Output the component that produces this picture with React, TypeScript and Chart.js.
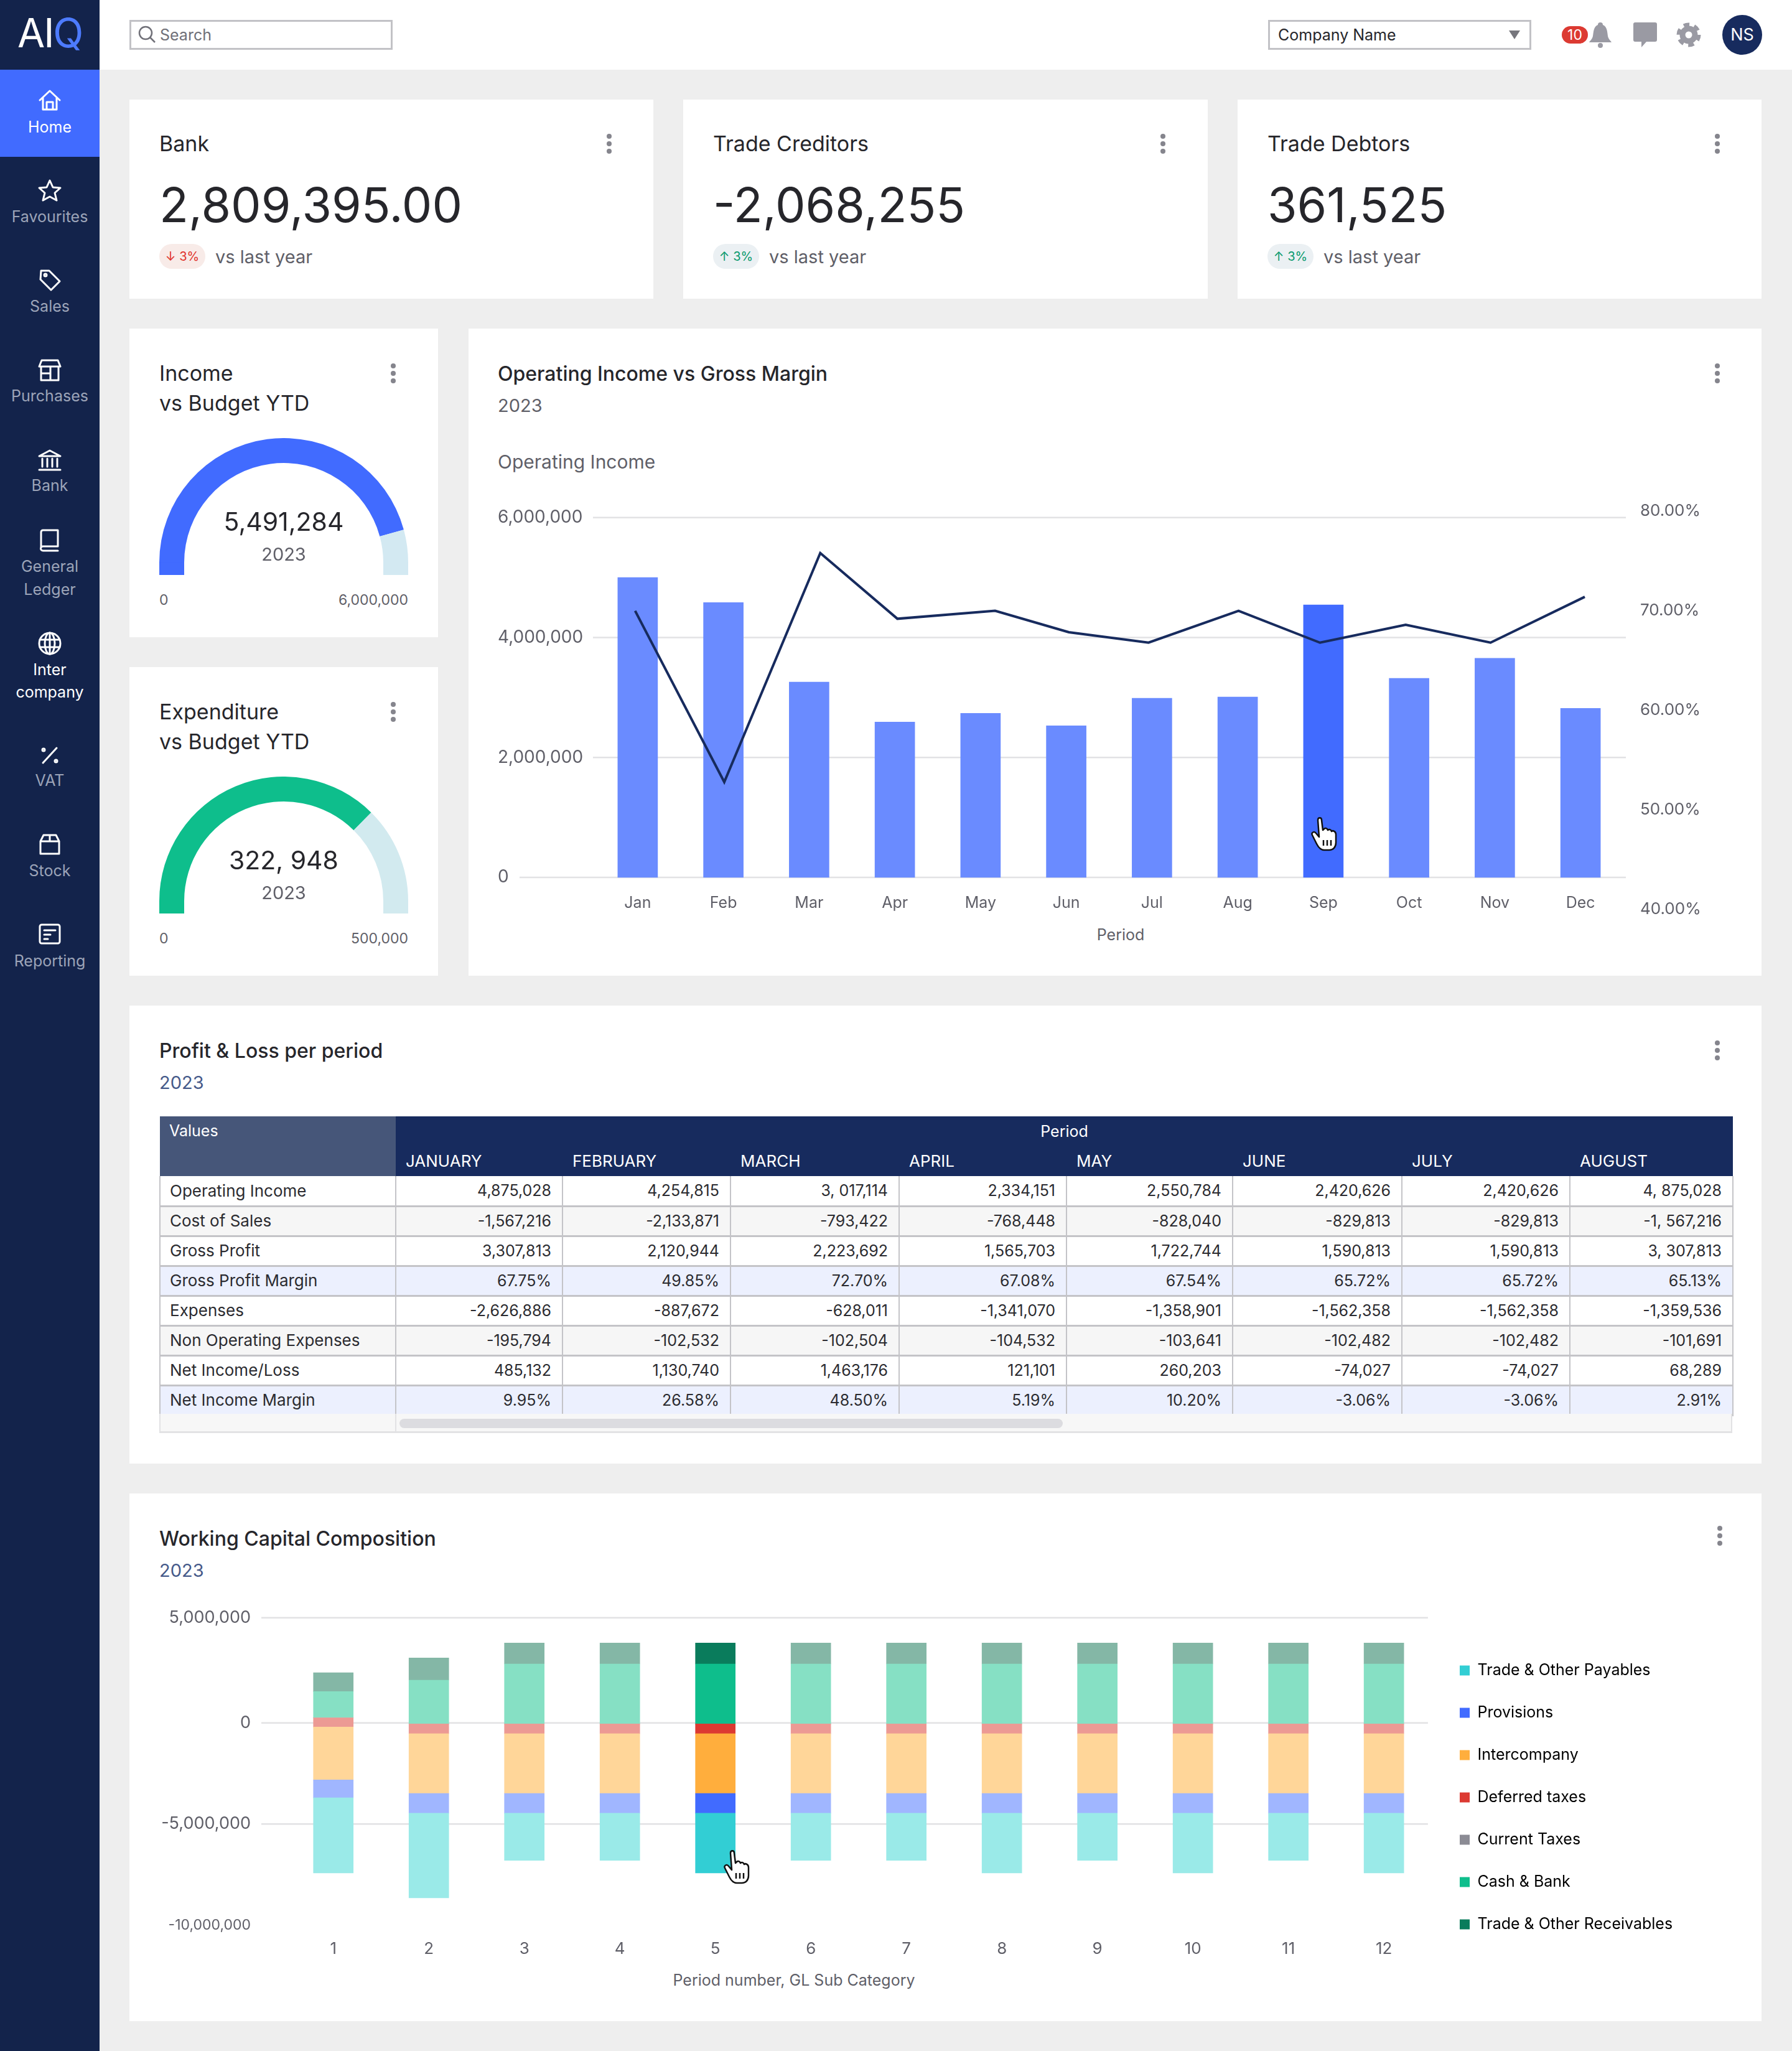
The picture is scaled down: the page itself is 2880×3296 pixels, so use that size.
import { useEffect, useRef } from "react";
import { Chart, registerables } from "chart.js";

Chart.register(...registerables);

const FONT = "Inter, sans-serif";
const NAVY = "#172b5e";
const BLUE = "#416bff";
const GREY_TEXT = "#5f5f68";

// Operating income vs gross margin
const months = ["Jan", "Feb", "Mar", "Apr", "May", "Jun", "Jul", "Aug", "Sep", "Oct", "Nov", "Dec"];
const operatingIncome = [5000000, 4583000, 3257000, 2590000, 2736000, 2528000, 2986000, 3007000, 4542000, 3319000, 3653000, 2819000];
const grossMargin = [70.0, 52.8, 75.8, 69.2, 70.0, 67.85, 66.8, 70.0, 66.8, 68.6, 66.8, 71.4];
// the line's vertices don't sit quite on the bar centres in the source
const marginPeriods = [-0.03, 1.01, 2.13, 3.03, 4.17, 5.03, 5.96, 7.01, 7.96, 8.96, 9.95, 11.05];
const incomeTicks = [0, 2000000, 4000000, 6000000];
const marginTicks = [40, 50, 60, 70, 80];
const highlightedMonth = 8;

// Gauges
const incomeGauge = [5491284, 508716];
const expenditureGauge = [374000, 126000];

// Working capital
const periods = ["1", "2", "3", "4", "5", "6", "7", "8", "9", "10", "11", "12"];
const columnTops = [2483000, 3217000, 3950000, 3950000, 3950000, 3950000, 3950000, 3950000, 3950000, 3950000, 3950000, 3950000];
const payables = [3717000, 4183000, 2333000, 2333000, 2950000, 2333000, 2333000, 2950000, 2333000, 2950000, 2333000, 2950000];
const provisions = [883000, 983000, 983000, 983000, 983000, 983000, 983000, 983000, 983000, 983000, 983000, 983000];
const intercompany = [2617000, 2950000, 2950000, 2950000, 2950000, 2950000, 2950000, 2950000, 2950000, 2950000, 2950000, 2950000];
const deferredTaxes = [450000, 483000, 483000, 483000, 483000, 483000, 483000, 483000, 483000, 483000, 483000, 483000];
const currentTaxes = [0, 0, 0, 0, 0, 0, 0, 0, 0, 0, 0, 0];
const cashBank = [1300000, 2167000, 2967000, 2967000, 2967000, 2967000, 2967000, 2967000, 2967000, 2967000, 2967000, 2967000];
const receivables = [933000, 1100000, 1033000, 1033000, 1033000, 1033000, 1033000, 1033000, 1033000, 1033000, 1033000, 1033000];
// top gridline sits slightly above 5M in the source
const capitalTicks = [5200000, 0, -5000000, -10000000];
const capitalTickLabels = ["5,000,000", "0", "-5,000,000", "-10,000,000"];
const highlightedPeriod = 4;

const capitalSeries = [
  { label: "Trade & Other Payables", values: payables, color: "#32ced4", faded: "#9aeae8" },
  { label: "Provisions", values: provisions, color: "#416bff", faded: "#a0b6ff" },
  { label: "Intercompany", values: intercompany, color: "#ffae3d", faded: "#ffd699" },
  { label: "Deferred taxes", values: deferredTaxes, color: "#dc3a32", faded: "#ec9a94" },
  { label: "Current Taxes", values: currentTaxes, color: "#8b8b94", faded: "#c5c5ca" },
  { label: "Cash & Bank", values: cashBank, color: "#0ebe8c", faded: "#86e0c4" },
  { label: "Trade & Other Receivables", values: receivables, color: "#0a7c5c", faded: "#84b7a6" },
];

// P&L table
const tableMonths = ["JANUARY", "FEBRUARY", "MARCH", "APRIL", "MAY", "JUNE", "JULY", "AUGUST"];
const columnWidths = [379, 268, 270, 271, 269, 267, 272, 270, 262];
const tableRows = [
  { label: "Operating Income", cells: ["4,875,028", "4,254,815", "3, 017,114", "2,334,151", "2,550,784", "2,420,626", "2,420,626", "4, 875,028"], bg: "#fff" },
  { label: "Cost of Sales", cells: ["-1,567,216", "-2,133,871", "-793,422", "-768,448", "-828,040", "-829,813", "-829,813", "-1, 567,216"], bg: "#f6f6f6" },
  { label: "Gross Profit", cells: ["3,307,813", "2,120,944", "2,223,692", "1,565,703", "1,722,744", "1,590,813", "1,590,813", "3, 307,813"], bg: "#fff" },
  { label: "Gross Profit Margin", cells: ["67.75%", "49.85%", "72.70%", "67.08%", "67.54%", "65.72%", "65.72%", "65.13%"], bg: "#ecf0fe" },
  { label: "Expenses", cells: ["-2,626,886", "-887,672", "-628,011", "-1,341,070", "-1,358,901", "-1,562,358", "-1,562,358", "-1,359,536"], bg: "#fff" },
  { label: "Non Operating Expenses", cells: ["-195,794", "-102,532", "-102,504", "-104,532", "-103,641", "-102,482", "-102,482", "-101,691"], bg: "#f6f6f6" },
  { label: "Net Income/Loss", cells: ["485,132", "1,130,740", "1,463,176", "121,101", "260,203", "-74,027", "-74,027", "68,289"], bg: "#fff" },
  { label: "Net Income Margin", cells: ["9.95%", "26.58%", "48.50%", "5.19%", "10.20%", "-3.06%", "-3.06%", "2.91%"], bg: "#ecf0fe" },
];

// Draws horizontal grid lines so each tick can start at its own x
function gridPlugin(leftFor: (value: number) => number, right: number, skip: number[] = []) {
  return {
    id: "gridRun",
    beforeDatasetsDraw(chart: any) {
      const { ctx, chartArea, scales } = chart;
      ctx.save();
      ctx.strokeStyle = "#e2e2e4";
      ctx.lineWidth = 2.5;
      scales.y.ticks.forEach((tick: any) => {
        if (skip.includes(tick.value)) return;
        const y = scales.y.getPixelForValue(tick.value);
        ctx.beginPath();
        ctx.moveTo(chartArea.left + leftFor(tick.value), y);
        ctx.lineTo(chartArea.right + right, y);
        ctx.stroke();
      });
      ctx.restore();
    },
  };
}

// Straight stubs at both feet of the gauge
const gaugeFeet = {
  id: "gaugeFeet",
  afterDatasetsDraw(chart: any) {
    const arcs = chart.getDatasetMeta(0).data;
    const colors = chart.data.datasets[0].backgroundColor;
    const { x, y, innerRadius, outerRadius } = arcs[0].getProps(["x", "y", "innerRadius", "outerRadius"]);
    const ctx = chart.ctx;
    ctx.save();
    ctx.fillStyle = colors[0];
    ctx.fillRect(x - outerRadius, y - 0.5, outerRadius - innerRadius, 20.5);
    ctx.fillStyle = colors[1];
    ctx.fillRect(x + innerRadius, y - 0.5, outerRadius - innerRadius, 20.5);
    ctx.restore();
  },
};

function ChartCanvas({ config, left, top, width, height }: any) {
  const canvasRef = useRef<HTMLCanvasElement>(null);
  useEffect(() => {
    if (!canvasRef.current) return;
    const chart = new Chart(canvasRef.current, config());
    return () => chart.destroy();
  }, []);
  return <canvas ref={canvasRef} width={width} height={height} style={{ position: "absolute", left, top, width, height }} />;
}

function operatingConfig(): any {
  return {
    type: "bar",
    data: {
      labels: months,
      datasets: [
        {
          type: "line",
          data: grossMargin.map((y, i) => ({ x: marginPeriods[i], y })),
          xAxisID: "x2",
          yAxisID: "y1",
          borderColor: NAVY,
          borderWidth: 4,
          pointRadius: 0,
          tension: 0,
          order: 1,
        },
        {
          data: operatingIncome,
          xAxisID: "x",
          yAxisID: "y",
          grouped: false,
          barThickness: 64,
          backgroundColor: months.map((_, i) => (i === highlightedMonth ? BLUE : "#6a8bff")),
          order: 2,
        },
      ],
    },
    options: {
      responsive: false,
      animation: false,
      events: [],
      layout: { autoPadding: false, padding: { top: 10.65 } },
      plugins: { legend: { display: false }, tooltip: { enabled: false } },
      scales: {
        x: {
          grid: { display: false },
          border: { display: false },
          ticks: { color: GREY_TEXT, font: { family: FONT, size: 25 }, padding: -9, maxRotation: 0 },
          afterFit: (s: any) => { s.height = 44; },
        },
        x2: { type: "linear", display: false, offset: false, min: -0.5, max: 11.5 },
        y: {
          position: "left",
          // limits leave room for the right axis, which runs past the zero line
          min: -280000,
          max: 6104000,
          grid: { display: false },
          border: { display: false },
          afterBuildTicks: (s: any) => { s.ticks = incomeTicks.map((value) => ({ value })); },
          afterFit: (s: any) => { s.width = 156; },
          ticks: {
            crossAlign: "far",
            color: GREY_TEXT,
            font: { family: FONT, size: 28 },
            callback: (v: number) => v.toLocaleString("en-US"),
          },
        },
        y1: {
          position: "right",
          // the 40% tick lands below the plot area, beside the month labels
          min: 41.53,
          max: 80,
          grid: { display: false },
          border: { display: false },
          afterBuildTicks: (s: any) => { s.ticks = marginTicks.map((value) => ({ value })); },
          afterFit: (s: any) => { s.width = 151; },
          ticks: {
            padding: 19,
            color: GREY_TEXT,
            font: { family: FONT, size: 26 },
            callback: (v: number) => v.toFixed(2) + "%",
          },
        },
      },
    },
    plugins: [gridPlugin((v) => (v === 0 ? -121 : -3), 4)],
  };
}

function capitalConfig(): any {
  // each column hangs from its top value, so the segments are floated rather than stacked on zero
  const remaining = [...columnTops];
  const ranges = [...capitalSeries].reverse().map((s) =>
    s.values.map((value, i) => {
      const top = remaining[i];
      remaining[i] = top - value;
      return [top - value, top];
    })
  ).reverse();

  return {
    type: "bar",
    data: {
      labels: periods,
      datasets: capitalSeries.map((s, index) => ({
        label: s.label,
        data: ranges[index],
        grouped: false,
        barThickness: 64,
        backgroundColor: periods.map((_, i) => (i === highlightedPeriod ? s.color : s.faded)),
      })),
    },
    options: {
      responsive: false,
      animation: false,
      events: [],
      layout: { autoPadding: false, padding: { top: 19.5 } },
      plugins: {
        tooltip: { enabled: false },
        legend: {
          position: "right",
          align: "start",
          labels: {
            boxWidth: 16,
            boxHeight: 16,
            padding: 43,
            color: GREY_TEXT,
            font: { family: FONT, size: 25, lineHeight: 1 },
            generateLabels: () =>
              capitalSeries.map((s, i) => ({ text: s.label, fillStyle: s.color, strokeStyle: s.color, lineWidth: 0, hidden: false, datasetIndex: i })),
          },
        },
      },
      scales: {
        x: {
          grid: { display: false },
          border: { display: false },
          ticks: { color: GREY_TEXT, font: { family: FONT, size: 26 }, padding: 15, maxRotation: 0 },
          afterFit: (s: any) => { s.height = 60; },
        },
        y: {
          min: -10000000,
          max: 5200000,
          grid: { display: false },
          border: { display: false },
          afterBuildTicks: (s: any) => { s.ticks = capitalTicks.map((value) => ({ value })); },
          afterFit: (s: any) => { s.width = 203; },
          ticks: {
            padding: 48,
            color: GREY_TEXT,
            font: (ctx: any) => ({ family: FONT, size: ctx.index === 3 ? 23 : 27 }),
            callback: (_: number, i: number) => capitalTickLabels[i],
          },
        },
      },
    },
    plugins: [
      gridPlugin(() => -39, -6, [-10000000]),
      {
        id: "legendPlace",
        afterLayout(chart: any) {
          chart.legend.left = 2047;
          chart.legend.top = 91;
        },
      },
    ],
  };
}

function gaugeConfig(values: number[], color: string, rest: string) {
  return (): any => ({
    type: "doughnut",
    data: { datasets: [{ data: values, backgroundColor: [color, rest], borderWidth: 0 }] },
    options: {
      responsive: false,
      animation: false,
      events: [],
      rotation: -90,
      circumference: 180,
      cutout: "80%",
      layout: { padding: { bottom: 20 } },
      plugins: { legend: { display: false }, tooltip: { enabled: false } },
    },
    plugins: [gaugeFeet],
  });
}

function T({ x, y, size, color = "#26262b", weight = 400, align = "left", children }: any) {
  const shift = align === "center" ? "-50%" : align === "right" ? "-100%" : "0";
  return (
    <div style={{ position: "absolute", left: x, top: y, transform: `translate(${shift}, -50%)`, fontSize: size, color, fontWeight: weight, whiteSpace: "nowrap", lineHeight: 1.2 }}>
      {children}
    </div>
  );
}

function Box({ x, y, w, h, bg = "#fff", style }: any) {
  return <div style={{ position: "absolute", left: x, top: y, width: w, height: h, background: bg, ...style }} />;
}

function Kebab({ x, y }: any) {
  return (
    <>
      {[-12, 0, 12].map((d) => (
        <div key={d} style={{ position: "absolute", left: x - 4, top: y + d - 4, width: 8, height: 8, borderRadius: 4, background: "#85858d" }} />
      ))}
    </>
  );
}

const icons: Record<string, any> = {
  home: <path d="M4 20 L20 5 L36 20 M9 16 V35 H31 V16 M15 35 V23 H25 V35" />,
  star: <polygon points="20,4 25,15 37,16 28,24 31,36 20,30 9,36 12,24 3,16 15,15" />,
  tag: <><path d="M6 5 H19 L36 22 L22 36 L5 19 Z" /><circle cx="13" cy="12" r="2" /></>,
  store: <path d="M7 4 H33 L37 14 H3 Z M6 14 V36 H34 V14 M6 25 H21 M21 14 V36" />,
  bank: <path d="M3 13 L20 4 L37 13 Z M8 17 V30 M16 17 V30 M24 17 V30 M32 17 V30 M3 35 H37" />,
  book: <path d="M6 32 V7 a3 3 0 0 1 3-3 H33 V30 H9 a3 3 0 0 0 0 7 H33" />,
  globe: <><circle cx="20" cy="20" r="17" /><ellipse cx="20" cy="20" rx="8" ry="17" /><path d="M4 14 H36 M4 26 H36 M20 3 V37" /></>,
  percent: <><path d="M9 32 L31 8" /><circle cx="10" cy="11" r="2" /><circle cx="30" cy="29" r="2" /></>,
  box: <path d="M5 15 L10 5 H30 L35 15 V35 H5 Z M5 15 H35 M20 5 V15" />,
  report: <><rect x="4" y="5" width="32" height="30" rx="3" /><path d="M11 14 H29 M11 21 H21 M11 28 H17" /></>,
};

const navItems = [
  { icon: "home", labels: [["Home", 203.5]], iconY: 161, active: true },
  { icon: "star", labels: [["Favourites", 348]], iconY: 306 },
  { icon: "tag", labels: [["Sales", 492]], iconY: 450 },
  { icon: "store", labels: [["Purchases", 636]], iconY: 595 },
  { icon: "bank", labels: [["Bank", 780]], iconY: 740 },
  { icon: "book", labels: [["General", 910], ["Ledger", 947]], iconY: 868 },
  { icon: "globe", labels: [["Inter", 1076], ["company", 1112]], iconY: 1034, active: true },
  { icon: "percent", labels: [["VAT", 1254]], iconY: 1214 },
  { icon: "box", labels: [["Stock", 1399]], iconY: 1357 },
  { icon: "report", labels: [["Reporting", 1544]], iconY: 1501 },
];

function Sidebar() {
  return (
    <>
      <Box x={0} y={0} w={160} h={3296} bg="#13234b" />
      <Box x={0} y={112} w={160} h={140} bg={BLUE} />
      <div style={{ position: "absolute", left: 28, top: 15, fontSize: 64, color: "#fff", fontWeight: 400, lineHeight: 1.2, letterSpacing: -2 }}>
        AI<span style={{ color: "#4d7bff" }}>Q</span>
      </div>
      {navItems.map((item) => (
        <div key={item.icon}>
          <svg width={40} height={40} viewBox="0 0 40 40" fill="none" stroke="#fff" strokeWidth={3} strokeLinejoin="round" strokeLinecap="round"
            style={{ position: "absolute", left: 60, top: item.iconY - 20 }}>
            {icons[item.icon]}
          </svg>
          {item.labels.map(([text, y]: any) => (
            <T key={text} x={80} y={y} size={25} align="center" color={item.active ? "#fff" : "#9ca4b8"}>{text}</T>
          ))}
        </div>
      ))}
    </>
  );
}

function TopBar() {
  return (
    <>
      <Box x={160} y={0} w={2720} h={112} />
      <Box x={208} y={32} w={423} h={48} style={{ border: "3px solid #c2c2c6", boxSizing: "border-box" }} />
      <svg width={30} height={30} viewBox="0 0 30 30" fill="none" stroke="#707078" strokeWidth={2.5} style={{ position: "absolute", left: 222, top: 41 }}>
        <circle cx="12" cy="12" r="10" /><path d="M19 19 L27 27" />
      </svg>
      <T x={257} y={56} size={25} color="#707078">Search</T>

      <Box x={2038} y={32} w={423} h={48} style={{ border: "3px solid #c2c2c6", boxSizing: "border-box" }} />
      <T x={2054} y={56} size={25}>Company Name</T>
      <svg width={18} height={14} style={{ position: "absolute", left: 2425, top: 49 }}><polygon points="0,0 18,0 9,14" fill="#77777d" /></svg>

      <svg width={40} height={42} viewBox="0 0 40 42" style={{ position: "absolute", left: 2552, top: 35 }} fill="#9a9aa3">
        <path d="M20 1 a4 4 0 0 1 4 4 C31 8 31 16 32 23 C33 28 37 31 38 33 H2 C3 31 7 28 8 23 C9 16 9 8 16 5 a4 4 0 0 1 4-4 Z" />
        <circle cx="20" cy="38" r="4" />
      </svg>
      <div style={{ position: "absolute", left: 2510, top: 42, width: 42, height: 28, borderRadius: 14, background: "#dc3a32", color: "#fff", fontSize: 23, lineHeight: "28px", textAlign: "center" }}>10</div>
      <svg width={40} height={42} viewBox="0 0 40 42" style={{ position: "absolute", left: 2624, top: 35 }} fill="#9a9aa3">
        <path d="M4 1 H36 a3 3 0 0 1 3 3 V29 a3 3 0 0 1-3 3 H22 L14 41 V32 H4 a3 3 0 0 1-3-3 V4 a3 3 0 0 1 3-3 Z" />
      </svg>
      <svg width={40} height={42} viewBox="0 0 40 42" style={{ position: "absolute", left: 2694, top: 35 }} fill="none" stroke="#9a9aa3">
        <circle cx="20" cy="21" r="10" strokeWidth={9} />
        <circle cx="20" cy="21" r="16" strokeWidth={7} strokeDasharray="9 7.75" />
      </svg>
      <div style={{ position: "absolute", left: 2768, top: 24, width: 64, height: 64, borderRadius: 32, background: NAVY, color: "#fff", fontSize: 27, lineHeight: "64px", textAlign: "center" }}>NS</div>
    </>
  );
}

function StatCard({ x, w, title, value, badge, down }: any) {
  return (
    <>
      <Box x={x} y={160} w={w} h={320} />
      <T x={x + 48} y={231} size={34}>{title}</T>
      <T x={x + 48} y={329} size={77}>{value}</T>
      <div style={{ position: "absolute", left: x + 48, top: 392, width: 74, height: 40, borderRadius: 20, background: down ? "#f8ebe8" : "#ebf0f3", color: down ? "#e0322b" : "#0a9a6e", fontSize: 20, lineHeight: "40px", textAlign: "center" }}>
        {down ? "↓" : "↑"} {badge}
      </div>
      <T x={x + 138} y={413} size={29} color={GREY_TEXT}>vs last year</T>
      <Kebab x={x + 771} y={231} />
    </>
  );
}

function GaugeCard({ y, h, titles, values, color, rest, value, max }: any) {
  return (
    <>
      <Box x={208} y={y} w={496} h={h} />
      <T x={256} y={y + 72} size={34}>{titles[0]}</T>
      <T x={256} y={y + 120} size={34}>{titles[1]}</T>
      <Kebab x={632} y={y + 72} />
      <ChartCanvas config={gaugeConfig(values, color, rest)} left={256} top={y + 176} width={400} height={220} />
      <T x={456} y={y + 311} size={41} align="center">{value}</T>
      <T x={456} y={y + 363} size={29} align="center" color={GREY_TEXT}>2023</T>
      <T x={256} y={y + 437} size={23} color={GREY_TEXT}>0</T>
      <T x={656} y={y + 437} size={23} align="right" color={GREY_TEXT}>{max}</T>
    </>
  );
}

function Hand({ x, y }: any) {
  return (
    <svg width={48} height={56} viewBox="0 0 48 56" style={{ position: "absolute", left: x, top: y }} fill="#fff" stroke="#111" strokeWidth={2.5} strokeLinejoin="round">
      <path d="M12 6 C12 1 18 1 18 6 L20 22 L22 20 C24 18 27 19 28 22 C30 20 33 21 34 24 C36 22 41 24 41 29 L41 42 C41 49 37 54 30 54 L22 54 C16 54 13 50 10 44 L3 30 C1 26 6 23 9 27 L14 33 Z" />
      <path d="M21 38 V47 M27 38 V47 M33 38 V47" fill="none" />
    </svg>
  );
}

function ProfitLossTable() {
  const cell = { boxSizing: "border-box", padding: "0 17px", borderRight: "2px solid #c4c4c8", borderBottom: "3px solid #c4c4c8", height: 48, color: "#2b2b30" } as any;
  return (
    <table style={{ position: "absolute", left: 256, top: 1794, width: 2528, tableLayout: "fixed", borderCollapse: "collapse", fontSize: 25, lineHeight: 1.2 }}>
      <colgroup>{columnWidths.map((w, i) => <col key={i} style={{ width: w }} />)}</colgroup>
      <thead>
        <tr style={{ height: 48, color: "#fff", fontWeight: 400 }}>
          <th rowSpan={2} style={{ background: "#465679", textAlign: "left", verticalAlign: "top", padding: "8px 15px", fontWeight: 400 }}>Values</th>
          <th colSpan={8} style={{ background: NAVY, fontWeight: 400, padding: 0 }}>Period</th>
        </tr>
        <tr style={{ height: 48, color: "#fff" }}>
          {tableMonths.map((m) => <th key={m} style={{ background: NAVY, textAlign: "left", padding: "0 16px", fontWeight: 400, fontSize: 26 }}>{m}</th>)}
        </tr>
      </thead>
      <tbody>
        {tableRows.map((row) => (
          <tr key={row.label} style={{ background: row.bg }}>
            <td style={{ ...cell, borderLeft: "2px solid #c4c4c8", padding: "0 15px", fontSize: 26 }}>{row.label}</td>
            {row.cells.map((c, i) => <td key={i} style={{ ...cell, textAlign: "right" }}>{c}</td>)}
          </tr>
        ))}
      </tbody>
    </table>
  );
}

export default function App() {
  return (
    <div style={{ position: "absolute", left: 0, top: 0, width: 2880, height: 3296, background: "#eeeeee", overflow: "hidden", fontFamily: FONT }}>
      <Sidebar />
      <TopBar />

      <StatCard x={208} w={842} title="Bank" value="2,809,395.00" badge="3%" down />
      <StatCard x={1098} w={843} title="Trade Creditors" value="-2,068,255" badge="3%" />
      <StatCard x={1989} w={842} title="Trade Debtors" value="361,525" badge="3%" />

      <GaugeCard y={528} h={496} titles={["Income", "vs Budget YTD"]} values={incomeGauge} color={BLUE} rest="#d3e9f2" value="5,491,284" max="6,000,000" />
      <GaugeCard y={1072} h={496} titles={["Expenditure", "vs Budget YTD"]} values={expenditureGauge} color="#0ebe8c" rest="#d2eaef" value="322, 948" max="500,000" />

      <Box x={753} y={528} w={2078} h={1040} />
      <T x={800} y={601} size={32} weight={500}>Operating Income vs Gross Margin</T>
      <T x={800} y={652} size={29} color={GREY_TEXT}>2023</T>
      <T x={800} y={742} size={30} color={GREY_TEXT}>Operating Income</T>
      <Kebab x={2760} y={600} />
      <ChartCanvas config={operatingConfig} left={800} top={787} width={1960} height={694} />
      <T x={1801} y={1502} size={25} align="center" color={GREY_TEXT}>Period</T>
      <Hand x={2106} y={1312} />

      <Box x={208} y={1616} w={2623} h={736} />
      <T x={256} y={1689} size={32} weight={500}>Profit &amp; Loss per period</T>
      <T x={256} y={1740} size={29} color="#465a8a">2023</T>
      <Kebab x={2760} y={1688} />
      <ProfitLossTable />
      <Box x={256} y={2272} w={2528} h={31} bg="#f7f7f7" style={{ borderBottom: "3px solid #e2e2e4", borderLeft: "2px solid #e2e2e4", borderRight: "2px solid #e2e2e4", boxSizing: "border-box" }} />
      <Box x={635} y={2272} w={2} h={31} bg="#e2e2e4" />
      <Box x={642} y={2280} w={1066} h={15} bg="#dcdce0" style={{ borderRadius: 8 }} />

      <Box x={208} y={2400} w={2623} h={848} />
      <T x={256} y={2473} size={32} weight={500}>Working Capital Composition</T>
      <T x={256} y={2524} size={29} color="#465a8a">2023</T>
      <Kebab x={2764} y={2468} />
      <ChartCanvas config={capitalConfig} left={256} top={2538} width={2440} height={620} />
      <T x={1276} y={3182} size={25} align="center" color={GREY_TEXT}>Period number, GL Sub Category</T>
      <Hand x={1162} y={2972} />
    </div>
  );
}
